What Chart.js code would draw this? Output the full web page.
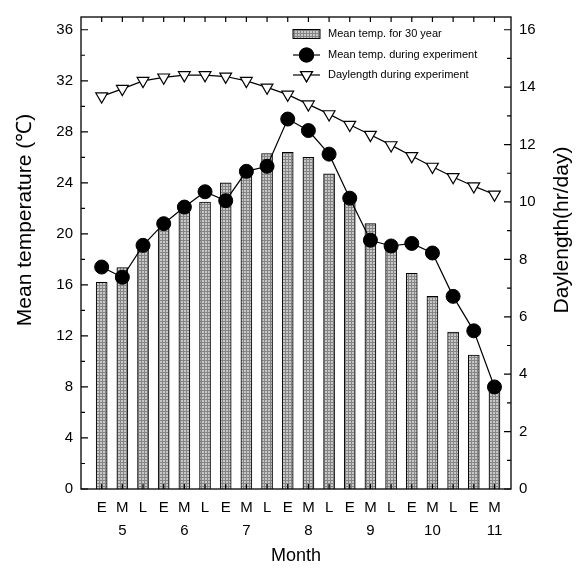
<!DOCTYPE html>
<html>
<head>
<meta charset="utf-8">
<script src="https://cdn.jsdelivr.net/npm/chart.js@4.4.0/dist/chart.umd.min.js"></script>
<style>
  body { margin: 0; background: #fff; }
  canvas { display: block; }
</style>
</head>
<body>
<canvas id="chart" width="586" height="569"></canvas>
<script>
// 旬 (E = early, M = middle, L = late) and month under the middle one
const periods = ['E','M','L','E','M','L','E','M','L','E','M','L','E','M','L','E','M','L','E','M'];
const monthLabels = ['','5','','','6','','','7','','','8','','','9','','','10','','','11'];

const meanTemp30 = [16.2, 17.35, 18.8, 20.6, 21.7, 22.5, 24.0, 24.6, 26.3, 26.4,
                    26.0, 24.7, 23.1, 20.8, 19.0, 16.9, 15.1, 12.3, 10.5, 7.8];
const meanTempExp = [17.4, 16.6, 19.1, 20.8, 22.1, 23.3, 22.6, 24.9, 25.3, 29.0,
                     28.1, 26.25, 22.8, 19.5, 19.05, 19.25, 18.5, 15.1, 12.4, 8.0];
const daylengthExp = [13.68, 13.94, 14.22, 14.34, 14.42, 14.42, 14.37, 14.22, 13.99, 13.74,
                      13.4, 13.06, 12.69, 12.34, 11.98, 11.6, 11.23, 10.87, 10.55, 10.26];

const seriesNames = ['Mean temp. for 30 year', 'Mean temp. during experiment', 'Daylength during experiment'];
const axisTitles = ['Month', 'Mean temperature (℃)', 'Daylength(hr/day)'];

const FONT = "'Liberation Sans', Arial, sans-serif";
Chart.defaults.font.family = FONT;
Chart.defaults.color = '#000';

// 柱子的细网格填充
function makePattern() {
    const c = document.createElement('canvas');
    c.width = 3; c.height = 3;
    const g = c.getContext('2d');
    g.fillStyle = '#c8c8c8';
    g.fillRect(0, 0, 3, 3);
    g.fillStyle = '#858585';
    g.fillRect(0, 0, 3, 1);
    g.fillRect(0, 0, 1, 3);
    return g.createPattern(c, 'repeat');
}
const barFill = makePattern();

const toPoints = arr => arr.map((v, i) => ({ x: i + 1, y: v }));

// 边框、向内的刻度线、图例、两侧纵轴标题
const decorPlugin = {
    id: 'decor',
    afterDatasetsDraw(chart) {
        const { ctx, chartArea: a, scales } = chart;
        ctx.save();
        ctx.strokeStyle = '#000';
        ctx.lineWidth = 1.3;
        ctx.strokeRect(a.left, a.top, a.right - a.left, a.bottom - a.top);

        ctx.lineWidth = 1.2;
        ctx.beginPath();
        scales.x.ticks.forEach(t => {
            const px = scales.x.getPixelForValue(t.value);
            ctx.moveTo(px, a.top); ctx.lineTo(px, a.top + 5);
            ctx.moveTo(px, a.bottom); ctx.lineTo(px, a.bottom - 5);
        });
        [['y', a.left, 1], ['y1', a.right, -1]].forEach(([id, edge, dir]) => {
            const s = scales[id];
            const vals = s.ticks.map(t => t.value);
            const step = vals[1] - vals[0];
            vals.forEach(v => {
                const py = s.getPixelForValue(v);
                ctx.moveTo(edge, py); ctx.lineTo(edge + dir * 7, py);
                const mv = v + step / 2;
                if (mv < s.max) {
                    const pm = s.getPixelForValue(mv);
                    ctx.moveTo(edge, pm); ctx.lineTo(edge + dir * 4, pm);
                }
            });
        });
        ctx.stroke();

        // legend
        const lx0 = 293, lx1 = 320, tx = 328;
        const rows = [34, 55, 75];
        ctx.font = '11px ' + FONT;
        ctx.textBaseline = 'middle';
        chart.data.datasets.forEach((ds, i) => {
            const y = rows[i];
            if (ds.type === 'line') {
                ctx.beginPath();
                ctx.lineWidth = 1.2;
                ctx.moveTo(lx0, y); ctx.lineTo(lx1, y);
                ctx.stroke();
                Chart.helpers.drawPoint(ctx, {
                    pointStyle: ds.pointStyle,
                    radius: ds.pointRadius,
                    rotation: ds.pointRotation || 0,
                    borderWidth: ds.pointBorderWidth
                }, (lx0 + lx1) / 2, y);
                ctx.fillStyle = ds.pointBackgroundColor;
                ctx.strokeStyle = '#000';
                ctx.fill();
                ctx.stroke();
            } else {
                ctx.fillStyle = barFill;
                ctx.fillRect(lx0, y - 4.5, lx1 - lx0, 9);
                ctx.lineWidth = 1;
                ctx.strokeRect(lx0, y - 4.5, lx1 - lx0, 9);
            }
            ctx.fillStyle = '#000';
            ctx.fillText(ds.label, tx, y);
        });

        // vertical axis titles, both reading bottom to top
        ctx.font = '21px ' + FONT;
        ctx.textAlign = 'center';
        [[25, 220, axisTitles[1]], [562, 230, axisTitles[2]]].forEach(([x, y, text]) => {
            ctx.save();
            ctx.translate(x, y);
            ctx.rotate(-Math.PI / 2);
            ctx.fillText(text, 0, 0);
            ctx.restore();
        });
        ctx.restore();
    }
};

new Chart(document.getElementById('chart'), {
    type: 'bar',
    data: {
        datasets: [
            {
                type: 'bar',
                label: seriesNames[0],
                data: toPoints(meanTemp30),
                backgroundColor: barFill,
                borderColor: '#000',
                borderWidth: 1,
                barThickness: 11,
                yAxisID: 'y',
                order: 3
            },
            {
                type: 'line',
                label: seriesNames[1],
                data: toPoints(meanTempExp),
                borderColor: '#000',
                borderWidth: 1.2,
                pointStyle: 'circle',
                pointRadius: 7,
                pointBackgroundColor: '#000',
                pointBorderColor: '#000',
                pointBorderWidth: 1,
                yAxisID: 'y',
                order: 1
            },
            {
                type: 'line',
                label: seriesNames[2],
                data: toPoints(daylengthExp),
                borderColor: '#000',
                borderWidth: 1.2,
                pointStyle: 'triangle',
                pointRotation: 180,
                pointRadius: 6.8,
                pointBackgroundColor: '#fff',
                pointBorderColor: '#000',
                pointBorderWidth: 1.2,
                yAxisID: 'y1',
                order: 2
            }
        ]
    },
    options: {
        responsive: false,
        animation: false,
        devicePixelRatio: 1,
        layout: { padding: { top: 10, left: 0, right: 0, bottom: 0 } },
        plugins: { legend: { display: false }, tooltip: { enabled: false } },
        scales: {
            x: {
                type: 'linear',
                position: 'bottom',
                offset: false,
                min: 0,
                max: 20.8,
                grid: { display: false, drawTicks: false, offset: false },
                border: { display: false },
                afterBuildTicks: scale => {
                    scale.ticks = periods.map((p, i) => ({ value: i + 1 }));
                },
                afterFit: scale => { scale.height = 80; },
                ticks: {
                    autoSkip: false,
                    maxRotation: 0,
                    padding: 7.5,
                    font: { size: 15, lineHeight: '23px' },
                    callback: value => {
                        const i = Math.round(value) - 1;
                        return [periods[i], monthLabels[i]];
                    }
                },
                title: {
                    display: true,
                    text: axisTitles[0],
                    font: { size: 18 },
                    padding: { top: 0, bottom: 2 }
                }
            },
            y: {
                position: 'left',
                min: 0,
                max: 37,
                grid: { display: false, drawTicks: false },
                border: { display: false },
                afterFit: scale => { scale.width = 81; },
                ticks: { stepSize: 4, includeBounds: false, padding: 8, font: { size: 15 } }
            },
            y1: {
                position: 'right',
                min: 0,
                max: 16.444,
                grid: { display: false, drawTicks: false },
                border: { display: false },
                afterFit: scale => { scale.width = 75; },
                ticks: { stepSize: 2, includeBounds: false, padding: 8, font: { size: 15 } }
            }
        }
    },
    plugins: [decorPlugin]
});
</script>
</body>
</html>
